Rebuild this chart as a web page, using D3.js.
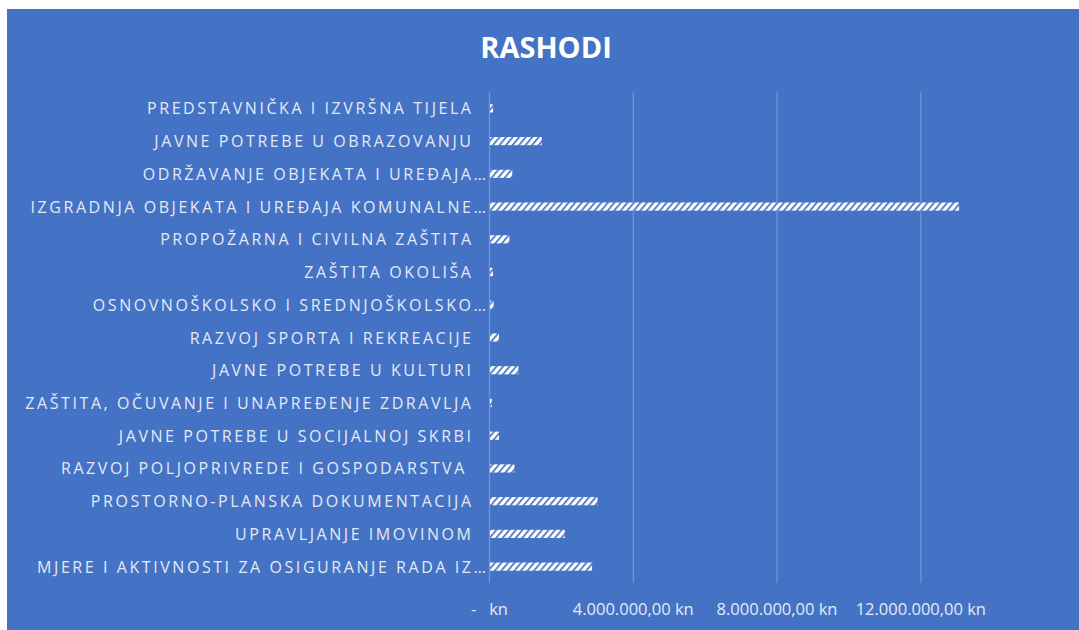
<!DOCTYPE html>
<html>
<head>
<meta charset="utf-8">
<script src="https://cdn.jsdelivr.net/npm/d3@7"></script>
<style>
  body { margin: 0; background: #ffffff; }
  text { font-family: "Open Sans", sans-serif; }
</style>
</head>
<body>
<div id="chart"></div>
<script>
// podaci
var kategorije = [
  "PREDSTAVNIČKA I IZVRŠNA TIJELA",
  "JAVNE POTREBE U OBRAZOVANJU",
  "ODRŽAVANJE OBJEKATA I UREĐAJA…",
  "IZGRADNJA OBJEKATA I UREĐAJA KOMUNALNE…",
  "PROPOŽARNA I CIVILNA ZAŠTITA",
  "ZAŠTITA OKOLIŠA",
  "OSNOVNOŠKOLSKO I SREDNJOŠKOLSKO…",
  "RAZVOJ SPORTA I REKREACIJE",
  "JAVNE POTREBE U KULTURI",
  "ZAŠTITA, OČUVANJE I UNAPREĐENJE ZDRAVLJA",
  "JAVNE POTREBE U SOCIJALNOJ SKRBI",
  "RAZVOJ POLJOPRIVREDE I GOSPODARSTVA ",
  "PROSTORNO-PLANSKA DOKUMENTACIJA",
  "UPRAVLJANJE IMOVINOM",
  "MJERE I AKTIVNOSTI ZA OSIGURANJE RADA IZ…"
];
var rashodi = [
  85000, 1440000, 620000, 13050000, 540000, 80000, 100000, 250000,
  790000, 50000, 250000, 680000, 2990000, 2080000, 2840000
];
var tickVrijednosti = [0, 4000000, 8000000, 12000000];
var tickOznake = ["-   kn", "4.000.000,00 kn", "8.000.000,00 kn", "12.000.000,00 kn"];

var width = 1079;
var height = 630;
var plavo = "#4472C4";
var svjetlo = "#E4EAF5";
var mreza = "#7194D3";

var svg = d3.select("#chart")
  .append("svg")
  .attr("width", width)
  .attr("height", height);

// uzorak za stupce
var defs = svg.append("defs");
var uzorak = defs.append("pattern")
  .attr("id", "crte")
  .attr("patternUnits", "userSpaceOnUse")
  .attr("width", 5)
  .attr("height", 5)
  .attr("patternTransform", "rotate(40)");
uzorak.append("rect")
  .attr("width", 5)
  .attr("height", 5)
  .attr("fill", "#ffffff");
uzorak.append("rect")
  .attr("width", 1.7)
  .attr("height", 5)
  .attr("fill", plavo);

// pozadina
svg.append("rect")
  .attr("x", 7)
  .attr("y", 9)
  .attr("width", width - 7)
  .attr("height", height - 9)
  .attr("fill", plavo);

// naslov
svg.append("text")
  .text("RASHODI")
  .attr("x", 546)
  .attr("y", 58)
  .attr("text-anchor", "middle")
  .style("font-size", "29px")
  .style("font-weight", "bold")
  .style("fill", "#ffffff");

var escalaX = d3.scaleLinear()
  .domain([0, 14000000])
  .range([489.5, 992.7]);

var escalaY = d3.scaleBand()
  .domain(kategorije)
  .range([92, 583])
  .paddingInner(0.75)
  .paddingOuter(0.375);

// mreža
svg.append("g")
  .selectAll("line")
  .data(tickVrijednosti)
  .enter()
  .append("line")
  .attr("x1", function (d) { return escalaX(d); })
  .attr("x2", function (d) { return escalaX(d); })
  .attr("y1", 92)
  .attr("y2", 583)
  .attr("stroke", mreza)
  .attr("stroke-width", 1.3);

// oznake osi x
svg.append("g")
  .selectAll("text")
  .data(tickVrijednosti)
  .enter()
  .append("text")
  .text(function (d, i) { return tickOznake[i]; })
  .attr("x", function (d) { return escalaX(d); })
  .attr("y", 615)
  .attr("text-anchor", "middle")
  .style("white-space", "pre")
  .style("font-size", "16.5px")
  .style("fill", svjetlo);

// stupci
svg.append("g")
  .selectAll("rect")
  .data(rashodi)
  .enter()
  .append("rect")
  .attr("x", escalaX(0) + 0.5)
  .attr("y", function (d, i) { return escalaY(kategorije[i]); })
  .attr("width", function (d) { return escalaX(d) - escalaX(0); })
  .attr("height", escalaY.bandwidth())
  .attr("fill", "url(#crte)");

// oznake kategorija
var oznake = svg.append("g")
  .selectAll("text")
  .data(kategorije)
  .enter()
  .append("text")
  .text(function (d) { return d; })
  .attr("y", function (d) { return escalaY(d) + escalaY.bandwidth() / 2 + 6; })
  .attr("text-anchor", "end")
  .style("white-space", "pre")
  .style("font-size", "16px")
  .style("fill", svjetlo);

// razmak slova prema širini prve oznake
var prva = oznake.nodes()[0];
var sirina = prva.getComputedTextLength();
var razmak = (324 - sirina) / (kategorije[0].length - 1);
oznake
  .style("letter-spacing", razmak + "px")
  .attr("x", function (d) {
    return (d.slice(-1) === "…" ? 486 : 471) + razmak;
  });
</script>
</body>
</html>
